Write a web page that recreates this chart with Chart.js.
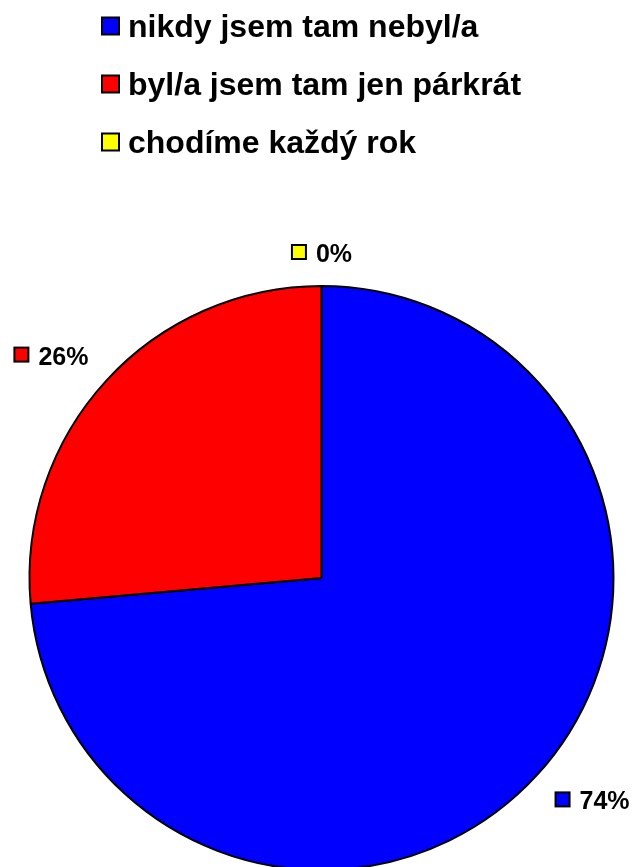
<!DOCTYPE html>
<html>
<head>
<meta charset="utf-8">
<script src="https://cdn.jsdelivr.net/npm/chart.js@4.4.1/dist/chart.umd.min.js"></script>
<style>
  html, body { margin: 0; padding: 0; background: #ffffff; overflow: hidden; }
  #wrap { width: 636px; height: 867px; }
</style>
</head>
<body>
<div id="wrap"><canvas id="c" width="636" height="867"></canvas></div>
<script>
const categories = ['nikdy jsem tam nebyl/a', 'byl/a jsem tam jen párkrát', 'chodíme každý rok'];
const values = [73.6, 26.4, 0];
const colors = ['#0000FF', '#FF0000', '#FFFF00'];

const FONT = '"Liberation Sans", Arial, sans-serif';

const legendPlugin = {
  id: 'customLegend',
  afterDraw(chart) {
    const ctx = chart.ctx;
    ctx.save();
    ctx.font = 'bold 32px ' + FONT;
    ctx.textBaseline = 'alphabetic';
    ctx.textAlign = 'left';
    categories.forEach((label, i) => {
      const baseline = 37 + i * 58;
      const bx = 102, by = baseline - 19.5, bs = 17;
      ctx.fillStyle = colors[i];
      ctx.fillRect(bx, by, bs, bs);
      ctx.lineWidth = 2;
      ctx.strokeStyle = '#000000';
      ctx.strokeRect(bx, by, bs, bs);
      ctx.fillStyle = '#000000';
      ctx.fillText(label, 128, baseline);
    });
    ctx.restore();
  }
};

const labelPlugin = {
  id: 'sliceLabels',
  afterDraw(chart) {
    const ctx = chart.ctx;
    const meta = chart.getDatasetMeta(0);
    const total = values.reduce((a, b) => a + b, 0);
    ctx.save();
    ctx.font = 'bold 25px ' + FONT;
    ctx.textBaseline = 'alphabetic';
    ctx.textAlign = 'left';
    meta.data.forEach((arc, i) => {
      const p = arc.getProps(['x', 'y', 'startAngle', 'endAngle', 'outerRadius'], true);
      const mid = (p.startAngle + p.endAngle) / 2;
      const dx = Math.cos(mid), dy = Math.sin(mid);
      const r = p.outerRadius + 24;
      const ax = p.x + dx * r, ay = p.y + dy * r;
      const text = Math.round(values[i] / total * 100) + '%';
      const tw = ctx.measureText(text).width;
      const boxS = 14, gap = 9;
      const w = boxS + 2 + gap + tw;
      const h = 18;
      let left, top;
      if (dx > 0.1) left = ax; else if (dx < -0.1) left = ax - w; else left = ax - w / 2;
      if (dy > 0.1) top = ay; else if (dy < -0.1) top = ay - h; else top = ay - h / 2;
      ctx.fillStyle = colors[i];
      ctx.fillRect(left + 1, top + 1, boxS, boxS);
      ctx.lineWidth = 2;
      ctx.strokeStyle = '#000000';
      ctx.strokeRect(left + 1, top + 1, boxS, boxS);
      ctx.fillStyle = '#000000';
      ctx.fillText(text, left + boxS + 2 + gap, top + h);
    });
    ctx.restore();
  }
};

new Chart(document.getElementById('c'), {
  type: 'pie',
  data: {
    labels: categories,
    datasets: [{
      data: values,
      backgroundColor: colors,
      borderColor: '#000000',
      borderWidth: 2,
      radius: 292
    }]
  },
  options: {
    responsive: false,
    animation: false,
    layout: { padding: { left: 7, right: 0, top: 289, bottom: 0 } },
    plugins: {
      legend: { display: false },
      tooltip: { enabled: false }
    }
  },
  plugins: [legendPlugin, labelPlugin]
});
</script>
</body>
</html>
